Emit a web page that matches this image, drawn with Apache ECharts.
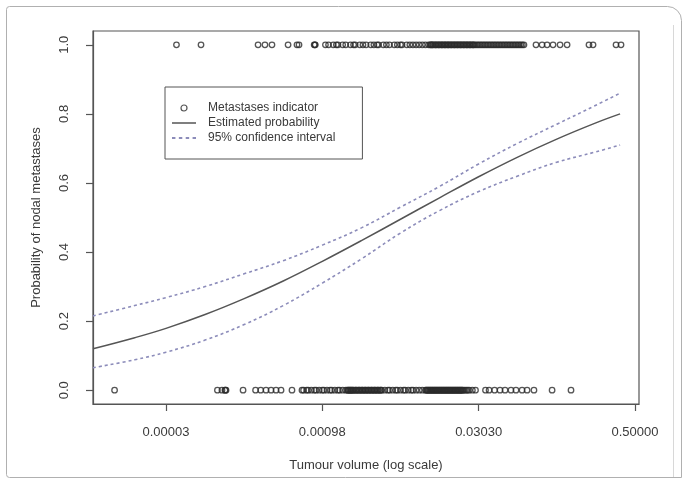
<!DOCTYPE html>
<html>
<head>
<meta charset="utf-8">
<script src="https://cdn.jsdelivr.net/npm/echarts@6/dist/echarts.min.js"></script>
<style>
html,body{margin:0;padding:0;background:#fff;}
#chart{width:683px;height:500px;}
</style>
</head>
<body>
<div id="chart"></div>
<script>
// x axis is in "log-scale units": tick k sits at position k
const tickPos = [0, 1, 2, 3];
const tickLabels = ['0.00003', '0.00098', '0.03030', '0.50000'];
const yTicks = [0, 0.2, 0.4, 0.6, 0.8, 1.0];

const curveX  = [-0.467, -0.2, 0, 0.25, 0.5, 0.75, 1.0, 1.25, 1.5, 1.75, 2.0, 2.25, 2.5, 2.75, 2.905];
const probEst = [0.120, 0.152, 0.179, 0.219, 0.265, 0.316, 0.373, 0.433, 0.495, 0.557, 0.618, 0.675, 0.727, 0.774, 0.800];
const ciUpper = [0.215, 0.245, 0.268, 0.300, 0.337, 0.375, 0.420, 0.470, 0.530, 0.590, 0.655, 0.715, 0.770, 0.825, 0.860];
const ciLower = [0.065, 0.088, 0.110, 0.145, 0.190, 0.245, 0.310, 0.380, 0.455, 0.520, 0.575, 0.620, 0.660, 0.690, 0.710];

// tumour positions with metastases (indicator = 1)
const metYes = [0.067, 0.224, 0.589, 0.633, 0.678, 0.781, 0.838, 0.851, 0.948, 0.952, 0.955,
  1.02, 1.04, 1.07, 1.09, 1.10, 1.13, 1.15, 1.18, 1.20, 1.21, 1.24, 1.26, 1.28, 1.31, 1.33, 1.35, 1.36,
  1.39, 1.41, 1.43, 1.46, 1.48, 1.50, 1.51, 1.54, 1.56, 1.58, 1.60, 1.62, 1.64, 1.66, 1.68,
  1.69, 1.695, 1.70, 1.705, 1.71, 1.72, 1.725, 1.73, 1.74, 1.745, 1.75, 1.76, 1.765, 1.77, 1.78, 1.785,
  1.79, 1.80, 1.805, 1.81, 1.82, 1.825, 1.83, 1.84, 1.845, 1.85, 1.86, 1.865, 1.87, 1.88, 1.885, 1.89,
  1.90, 1.905, 1.91, 1.92, 1.925, 1.93, 1.94, 1.945, 1.95, 1.96, 1.965, 1.97, 1.98, 1.99, 2.00, 2.01,
  2.02, 2.03, 2.04, 2.05, 2.06, 2.07, 2.08, 2.09, 2.10, 2.11, 2.12, 2.13, 2.14, 2.15, 2.16, 2.17,
  2.18, 2.19, 2.20, 2.21, 2.22, 2.23, 2.24, 2.25, 2.26, 2.27, 2.28, 2.29,
  2.367, 2.406, 2.438, 2.476, 2.521, 2.566, 2.706, 2.732, 2.879, 2.911];

// tumour positions without metastases (indicator = 0)
const metNo = [-0.329, 0.329, 0.358, 0.377, 0.380, 0.384, 0.493, 0.573, 0.606, 0.640, 0.672, 0.704,
  0.736, 0.806,
  0.87, 0.88, 0.90, 0.91, 0.93, 0.95, 0.96, 0.98, 1.00, 1.01, 1.03, 1.05, 1.06, 1.08, 1.10, 1.11,
  1.13, 1.15, 1.16, 1.165, 1.17, 1.175, 1.18, 1.185, 1.19, 1.195, 1.20, 1.21, 1.215, 1.22, 1.23, 1.235,
  1.24, 1.25, 1.255, 1.26, 1.27, 1.275, 1.28, 1.29, 1.295, 1.30, 1.31, 1.315, 1.32, 1.33, 1.335, 1.34,
  1.35, 1.355, 1.36, 1.37, 1.375, 1.38, 1.40, 1.42, 1.43, 1.45, 1.47, 1.48, 1.50,
  1.52, 1.53, 1.55, 1.57, 1.58, 1.60, 1.62, 1.64, 1.66, 1.665, 1.67, 1.675, 1.68, 1.685, 1.69, 1.695,
  1.70, 1.705, 1.71, 1.715, 1.72, 1.725, 1.73, 1.735, 1.74, 1.745, 1.75, 1.755, 1.76, 1.765, 1.77,
  1.775, 1.78, 1.785, 1.79, 1.795, 1.80, 1.805, 1.81, 1.815, 1.82, 1.825, 1.83, 1.835, 1.84, 1.845,
  1.85, 1.855, 1.86, 1.865, 1.87, 1.875, 1.88, 1.885, 1.89, 1.895, 1.90, 1.91, 1.92, 1.93, 1.94,
  1.96, 1.98,
  2.044, 2.067, 2.102, 2.137, 2.169, 2.207, 2.239, 2.278, 2.310, 2.354, 2.470, 2.591];

const FONT = '"Liberation Sans", Arial, sans-serif';
const TXT = '#3a3a3a';
const AX = '#555';
const CI = '#8c8cba';

const chart = echarts.init(document.getElementById('chart'), null, {renderer: 'canvas'});

const pointStyle = {color: 'rgba(0,0,0,0)', borderColor: '#2a2a2a', borderWidth: 1.3};
const solidIcon = 'path://M0,0H24V1.5H0Z';
const dashIcon = 'path://M0,0H3V1.6H0Z M6,0H9V1.6H6Z M12,0H15V1.6H12Z M18,0H21V1.6H18Z';

chart.setOption({
  animation: false,
  backgroundColor: '#fff',
  textStyle: {fontFamily: FONT},
  grid: {left: 93, right: 44, top: 31, bottom: 96, show: true, borderColor: AX, borderWidth: 1.2, backgroundColor: 'transparent'},
  xAxis: {
    type: 'value', min: -0.467, max: 3.026,
    axisLine: {show: true, onZero: false, lineStyle: {color: AX, width: 1.2}},
    splitLine: {show: false},
    axisTick: {show: true, inside: false, length: 7, customValues: tickPos, lineStyle: {color: AX, width: 1.2}},
    axisLabel: {customValues: tickPos, margin: 22, color: TXT, fontSize: 13, fontFamily: FONT,
      formatter: v => tickLabels[tickPos.indexOf(Math.round(v))] || ''},
    name: 'Tumour volume (log scale)', nameLocation: 'middle', nameGap: 55,
    nameTextStyle: {color: TXT, fontSize: 13, fontFamily: FONT}
  },
  yAxis: {
    type: 'value', min: -0.04, max: 1.04,
    axisLine: {show: true, onZero: false, lineStyle: {color: AX, width: 1.2}},
    splitLine: {show: false},
    axisTick: {show: true, inside: false, length: 7, customValues: yTicks, lineStyle: {color: AX, width: 1.2}},
    axisLabel: {customValues: yTicks, rotate: 90, margin: 22, color: TXT, fontSize: 13, fontFamily: FONT,
      formatter: v => v.toFixed(1)},
    name: 'Probability of nodal metastases', nameLocation: 'middle', nameGap: 50, nameRotate: 90,
    nameTextStyle: {color: TXT, fontSize: 13, fontFamily: FONT}
  },
  legend: {
    show: true, orient: 'vertical', left: 165, top: 87,
    borderColor: AX, borderWidth: 1, borderRadius: 0,
    padding: [14, 27, 14, 7], itemGap: 1, itemWidth: 24, itemHeight: 6,
    selectedMode: false,
    textStyle: {color: TXT, fontSize: 12, fontFamily: FONT, lineHeight: 14, padding: [0, 0, 0, 7]},
    data: [
      {name: 'Metastases indicator', icon: 'circle',
        itemStyle: {color: 'rgba(0,0,0,0)', borderColor: '#2a2a2a', borderWidth: 1.2}},
      {name: 'Estimated probability', icon: solidIcon,
        itemStyle: {color: '#555', borderWidth: 0}},
      {name: '95% confidence interval', icon: dashIcon,
        itemStyle: {color: CI, borderWidth: 0}}
    ]
  },
  graphic: [
    {type: 'rect', silent: true, z: -10, shape: {x: 6.5, y: 6.5, width: 675, height: 471, r: [3, 14, 0, 3]},
      style: {fill: 'none', stroke: '#b0b0b0', lineWidth: 1}},
    {type: 'line', silent: true, z: -10, shape: {x1: 673.5, y1: 25, x2: 673.5, y2: 477}, style: {stroke: '#d8d8d8', lineWidth: 1}}
  ],
  series: [
    {name: 'Metastases indicator', type: 'scatter', symbol: 'circle', symbolSize: 5.5,
      itemStyle: pointStyle, data: metYes.map(x => [x, 1])},
    {name: 'Metastases indicator', type: 'scatter', symbol: 'circle', symbolSize: 5.5,
      itemStyle: pointStyle, data: metNo.map(x => [x, 0])},
    {name: 'Estimated probability', type: 'line', symbol: 'none', smooth: 0.4,
      lineStyle: {color: '#555', width: 1.5}, itemStyle: {color: '#555'},
      data: curveX.map((x, i) => [x, probEst[i]])},
    {name: '95% confidence interval', type: 'line', symbol: 'none', smooth: 0.4,
      lineStyle: {color: CI, width: 1.6, type: [3, 3]}, itemStyle: {color: CI},
      data: curveX.map((x, i) => [x, ciUpper[i]])},
    {name: '95% confidence interval', type: 'line', symbol: 'none', smooth: 0.4,
      lineStyle: {color: CI, width: 1.6, type: [3, 3]}, itemStyle: {color: CI},
      data: curveX.map((x, i) => [x, ciLower[i]])}
  ]
});
</script>
</body>
</html>
